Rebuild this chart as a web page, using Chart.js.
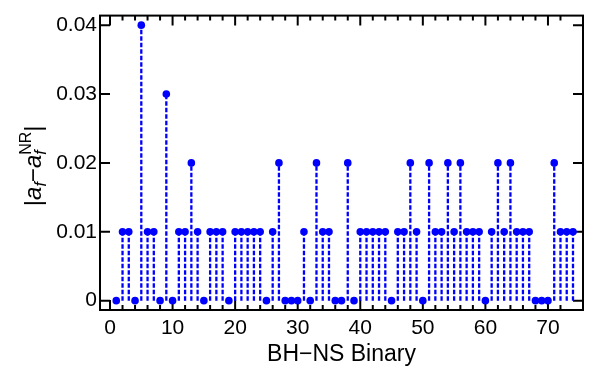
<!DOCTYPE html>
<html>
<head>
<meta charset="utf-8">
<title>BH-NS spin differences</title>
<script src="https://cdn.jsdelivr.net/npm/chart.js@4.4.0/dist/chart.umd.min.js"></script>
<style>
  html, body { margin: 0; padding: 0; background: #ffffff; }
  #wrap { width: 589px; height: 369px; }
</style>
</head>
<body>
<div id="wrap"><canvas id="spin-chart" width="589" height="369"></canvas></div>
<script>
// |a_f - a_f^NR| for each BH-NS binary, in catalogue order (1..74)
const spinDiff = [
  0,    0.01, 0.01, 0,    0.04, 0.01, 0.01, 0,    0.03, 0,
  0.01, 0.01, 0.02, 0.01, 0,    0.01, 0.01, 0.01, 0,    0.01,
  0.01, 0.01, 0.01, 0.01, 0,    0.01, 0.02, 0,    0,    0,
  0.01, 0,    0.02, 0.01, 0.01, 0,    0,    0.02, 0,    0.01,
  0.01, 0.01, 0.01, 0.01, 0,    0.01, 0.01, 0.02, 0.01, 0,
  0.02, 0.01, 0.01, 0.02, 0.01, 0.02, 0.01, 0.01, 0.01, 0,
  0.01, 0.02, 0.01, 0.02, 0.01, 0.01, 0.01, 0,    0,    0,
  0.02, 0.01, 0.01, 0.01
];
const binaryIds = spinDiff.map((_, i) => i + 1);

const xTicks = [0, 10, 20, 30, 40, 50, 60, 70];
const xMinorTicks = [0, 2, 4, 6, 8, 10, 12, 14, 16, 18, 20, 22, 24, 26, 28, 30, 32, 34, 36,
                     38, 40, 42, 44, 46, 48, 50, 52, 54, 56, 58, 60, 62, 64, 66, 68, 70, 72];
const yTicks = [0, 0.01, 0.02, 0.03, 0.04];

const FONT = "'Liberation Sans', Arial, Helvetica, sans-serif";
const BLUE = '#0000ff';

const dots = binaryIds.map((id, i) => ({ x: id, y: spinDiff[i] }));

// dashed stems from zero up to each nonzero value, split by null gaps
const stems = [];
binaryIds.forEach((id, i) => {
    if (spinDiff[i] > 0) {
        stems.push({ x: id, y: 0 }, { x: id, y: spinDiff[i] }, { x: id, y: null });
    }
});

// box frame with inward ticks, plus the y title with sub/superscripts
const frameTicks = {
    id: 'frameTicks',
    beforeDatasetsDraw(chart) {
        const { ctx, chartArea: a, scales: { x, y } } = chart;
        ctx.save();
        ctx.strokeStyle = '#000';
        ctx.lineWidth = 2;
        ctx.strokeRect(a.left, a.top, a.right - a.left, a.bottom - a.top);
        ctx.beginPath();
        xMinorTicks.forEach(v => {
            const px = x.getPixelForValue(v);
            const len = xTicks.includes(v) ? 10 : 5;
            ctx.moveTo(px, a.bottom); ctx.lineTo(px, a.bottom - len);
            ctx.moveTo(px, a.top); ctx.lineTo(px, a.top + len);
        });
        yTicks.forEach(v => {
            const py = y.getPixelForValue(v);
            ctx.moveTo(a.left, py); ctx.lineTo(a.left + 10, py);
            ctx.moveTo(a.right, py); ctx.lineTo(a.right - 10, py);
        });
        ctx.stroke();
        ctx.restore();
    },
    afterDraw(chart) {
        const { ctx, chartArea: a } = chart;
        const main = `24px ${FONT}`;
        const mainIt = `italic 24px ${FONT}`;
        const small = `16px ${FONT}`;
        const smallIt = `italic 16px ${FONT}`;
        const parts = [
            [{ t: '|', f: main, dy: 0 }],
            [{ t: 'a', f: mainIt, dy: 0 }],
            [{ t: 'f', f: smallIt, dy: 5 }],
            [{ t: '\u2212', f: main, dy: 0 }],
            [{ t: 'a', f: mainIt, dy: 0 }],
            [{ t: 'f', f: smallIt, dy: 5 }, { t: 'NR', f: small, dy: -10 }],
            [{ t: '|', f: main, dy: 0 }]
        ];
        ctx.save();
        const widths = parts.map(group => Math.max(...group.map(p => { ctx.font = p.f; return ctx.measureText(p.t).width; })));
        const total = widths.reduce((s, w) => s + w, 0);
        ctx.translate(41, (a.top + a.bottom) / 2 + 3);
        ctx.rotate(-Math.PI / 2);
        ctx.fillStyle = '#000';
        ctx.textBaseline = 'alphabetic';
        ctx.textAlign = 'left';
        let cx = -total / 2;
        parts.forEach((group, i) => {
            group.forEach(p => {
                ctx.font = p.f;
                ctx.fillText(p.t, cx, p.dy);
            });
            cx += widths[i];
        });
        ctx.restore();
    }
};

new Chart(document.getElementById('spin-chart'), {
    type: 'scatter',
    data: {
        datasets: [
            {
                data: dots,
                pointRadius: 3.8,
                pointBackgroundColor: BLUE,
                pointBorderWidth: 0,
                showLine: false
            },
            {
                data: stems,
                showLine: true,
                spanGaps: false,
                pointRadius: 0,
                borderColor: BLUE,
                borderWidth: 2.3,
                borderDash: [4.5, 2]
            }
        ]
    },
    options: {
        responsive: false,
        animation: false,
        devicePixelRatio: 1,
        layout: { padding: { top: 11, right: 6, left: 0, bottom: 0 } },
        plugins: {
            legend: { display: false },
            tooltip: { enabled: false }
        },
        scales: {
            x: {
                type: 'linear',
                min: -1.6,
                max: 75.6,
                grid: { display: false, drawTicks: false },
                border: { display: false },
                afterBuildTicks: (scale) => { scale.ticks = xTicks.map(v => ({ value: v })); },
                afterFit: (scale) => { scale.height = 59; },
                ticks: {
                    color: '#000',
                    padding: 6,
                    maxRotation: 0,
                    font: { family: FONT, size: 21 }
                },
                title: {
                    display: true,
                    text: 'BH\u2212NS Binary',
                    color: '#000',
                    font: { family: FONT, size: 23 },
                    padding: { top: 0, bottom: 1 }
                }
            },
            y: {
                min: -0.00136,
                max: 0.04139,
                grid: { display: false, drawTicks: false },
                border: { display: false },
                afterBuildTicks: (scale) => { scale.ticks = yTicks.map(v => ({ value: v })); },
                afterFit: (scale) => { scale.width = 100; },
                ticks: {
                    color: '#000',
                    padding: 3,
                    font: { family: FONT, size: 21 },
                    callback: (v) => v === 0 ? '0' : v.toFixed(2)
                }
            }
        }
    },
    plugins: [frameTicks]
});
</script>
</body>
</html>
